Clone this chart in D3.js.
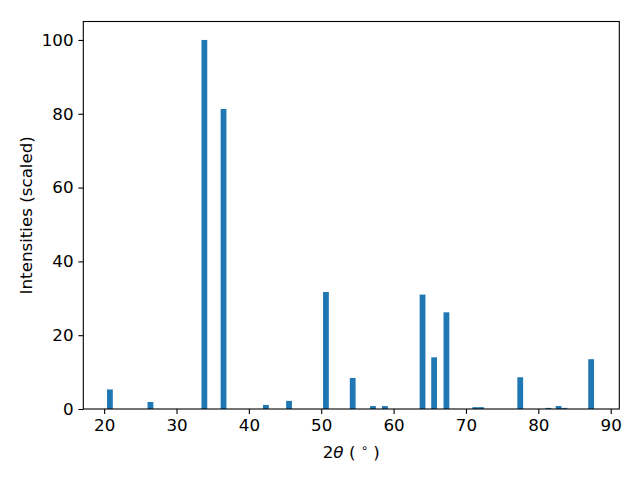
<!DOCTYPE html>
<html><head><meta charset="utf-8">
<script src="https://cdn.jsdelivr.net/npm/d3@7"></script>
<style>body{margin:0;background:#fff}svg{display:block}text{font-family:"DejaVu Sans",sans-serif}</style>
</head><body>
<svg id="c" width="640" height="480"></svg>
<script>
const positions = [20.8, 26.4, 33.85, 36.5, 42.35, 45.55, 50.65, 54.35, 57.15, 58.8, 64.0, 65.6, 67.3, 71.3, 72.1, 77.5, 81.4, 82.8, 83.6, 87.3];
const intensities = [5.3, 1.9, 100, 81.3, 1.1, 2.2, 31.7, 8.4, 0.8, 0.8, 31.0, 14.0, 26.2, 0.5, 0.5, 8.6, 0.3, 0.8, 0.3, 13.5];
const xTicks = [20, 30, 40, 50, 60, 70, 80, 90];
const yTicks = [0, 20, 40, 60, 80, 100];
const barWidth = 0.8;

const svg = d3.select("#c");
const L = 83.3, R = 619.3, T = 21.5, B = 409;
const x = d3.scaleLinear().domain([17.12, 91.19]).range([L, R]);
const y = d3.scaleLinear().domain([0, 105]).range([B, T]);

svg.append("g").selectAll("rect").data(positions).join("rect")
  .attr("x", (d) => x(d - barWidth / 2))
  .attr("width", (d) => x(d + barWidth / 2) - x(d - barWidth / 2))
  .attr("y", (d, i) => y(intensities[i]))
  .attr("height", (d, i) => y(0) - y(intensities[i]))
  .attr("fill", "#1f77b4");

const fs = 16.7;
const xa = svg.append("g").attr("transform", `translate(0,${B})`)
  .call(d3.axisBottom(x).tickValues(xTicks).tickSize(4.9).tickPadding(4.9).tickFormat(d3.format("d")));
const ya = svg.append("g").attr("transform", `translate(${L},0)`)
  .call(d3.axisLeft(y).tickValues(yTicks).tickSize(4.9).tickPadding(4.9).tickFormat(d3.format("d")));
[xa, ya].forEach(a => {
  a.select(".domain").remove();
  a.selectAll("line").attr("stroke", "#000").attr("stroke-width", 1.1);
  a.selectAll("text").attr("font-size", fs).attr("fill", "#000").attr("font-family", "DejaVu Sans");
});

svg.append("rect").attr("x", L).attr("y", T).attr("width", R - L).attr("height", B - T)
  .attr("fill", "none").attr("stroke", "#000").attr("stroke-width", 1.1);

const xl = svg.append("text").attr("x", (L + R) / 2).attr("y", 458)
  .attr("text-anchor", "middle").attr("font-size", fs).attr("fill", "#000")
  .attr("xml:space", "preserve").style("white-space", "pre");
xl.append("tspan").text("2");
xl.append("tspan").attr("font-style", "italic").text("θ");
xl.append("tspan").text(" ( ");
xl.append("tspan").attr("font-size", fs * 0.7).attr("dy", -6).text("∘");
xl.append("tspan").attr("dy", 6).text(" )");

svg.append("text").attr("transform", `translate(32,${(T + B) / 2}) rotate(-90)`)
  .attr("text-anchor", "middle").attr("font-size", fs).attr("fill", "#000")
  .text("Intensities (scaled)");
</script>
</body></html>
